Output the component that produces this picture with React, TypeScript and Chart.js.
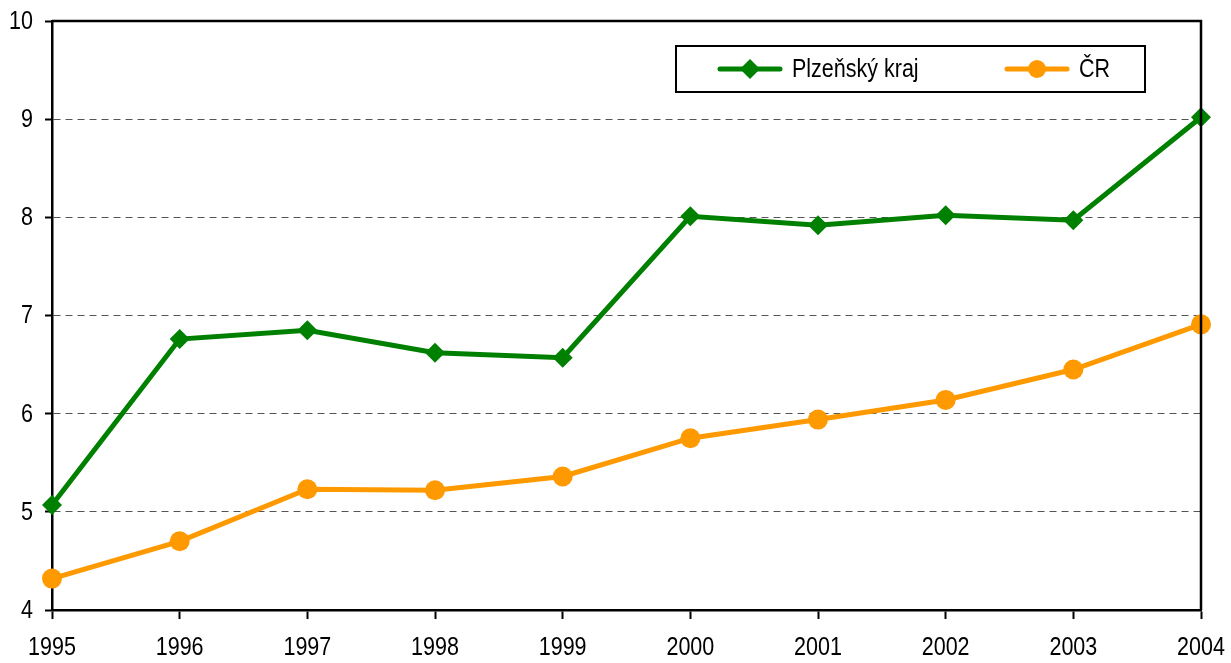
import React, { useEffect, useRef } from "react";
import { Chart, registerables } from "chart.js";

Chart.register(...registerables);

const years = ["1995", "1996", "1997", "1998", "1999", "2000", "2001", "2002", "2003", "2004"];
const plzensky = [5.07, 6.76, 6.85, 6.62, 6.57, 8.01, 7.92, 8.02, 7.97, 9.02];
const cr = [4.32, 4.70, 5.23, 5.22, 5.36, 5.75, 5.94, 6.14, 6.45, 6.91];
const seriesNames = ["Plzeňský kraj", "ČR"];
const yTicks = [4, 5, 6, 7, 8, 9, 10];

const GREEN = "#008000";
const ORANGE = "#FF9900";
const FONT = "'Liberation Sans', Arial, sans-serif";
const SX = 0.86; // horizontal condensing to mimic a narrow face

function narrowText(ctx: any, text: string, x: number, y: number, align: "left" | "right" | "center") {
  ctx.save();
  ctx.translate(x, y);
  ctx.scale(SX, 1);
  ctx.textAlign = align;
  ctx.fillText(text, 0, 0);
  ctx.restore();
}

const framePlugin = {
  id: "frame",
  afterDatasetsDraw(chart: any) {
    const { ctx, chartArea } = chart;
    ctx.save();
    ctx.strokeStyle = "#000";
    ctx.lineWidth = 2.5;
    ctx.beginPath();
    ctx.moveTo(chartArea.left, chartArea.top);
    ctx.lineTo(chartArea.right, chartArea.top);
    ctx.lineTo(chartArea.right, chartArea.bottom);
    ctx.stroke();
    ctx.restore();
  },
  afterDraw(chart: any) {
    const { ctx, chartArea } = chart;
    const xs = chart.scales.x;
    const ys = chart.scales.y;
    ctx.save();
    ctx.fillStyle = "#000";
    ctx.font = "25px " + FONT;
    ctx.textBaseline = "middle";
    years.forEach((lab, i) => {
      narrowText(ctx, lab, xs.getPixelForValue(i), chartArea.bottom + 38, "center");
    });
    yTicks.forEach((v) => {
      narrowText(ctx, String(v), chartArea.left - 19, ys.getPixelForValue(v) + 1, "right");
    });

    // legend box
    const bx = 676, by = 46, bw = 469, bh = 46;
    ctx.fillStyle = "#fff";
    ctx.fillRect(bx, by, bw, bh);
    ctx.strokeStyle = "#000";
    ctx.lineWidth = 2;
    ctx.strokeRect(bx, by, bw, bh);
    const cy = by + bh / 2;
    const items = [
      { x: 720, color: GREEN, style: "rectRot", text: seriesNames[0] },
      { x: 1007, color: ORANGE, style: "circle", text: seriesNames[1] },
    ];
    items.forEach((it) => {
      ctx.strokeStyle = it.color;
      ctx.lineWidth = 5;
      ctx.lineCap = "round";
      ctx.beginPath();
      ctx.moveTo(it.x, cy);
      ctx.lineTo(it.x + 60, cy);
      ctx.stroke();
      ctx.fillStyle = it.color;
      ctx.beginPath();
      const mx = it.x + 30;
      if (it.style === "circle") {
        ctx.arc(mx, cy, 9, 0, Math.PI * 2);
      } else {
        ctx.moveTo(mx, cy - 10);
        ctx.lineTo(mx + 10, cy);
        ctx.lineTo(mx, cy + 10);
        ctx.lineTo(mx - 10, cy);
        ctx.closePath();
      }
      ctx.fill();
      ctx.fillStyle = "#000";
      ctx.font = "25px " + FONT;
      ctx.textBaseline = "middle";
      narrowText(ctx, it.text, it.x + 72, cy + 1, "left");
    });
    ctx.restore();
  },
};

export default function App() {
  const ref = useRef<HTMLCanvasElement>(null);
  useEffect(() => {
    if (!ref.current) return;
    const chart = new Chart(ref.current, {
      type: "line",
      data: {
        labels: years,
        datasets: [
          {
            label: seriesNames[0],
            data: plzensky,
            borderColor: GREEN,
            backgroundColor: GREEN,
            borderWidth: 5,
            pointStyle: "rectRot",
            pointRadius: 10,
            pointBorderWidth: 0,
            tension: 0,
          },
          {
            label: seriesNames[1],
            data: cr,
            borderColor: ORANGE,
            backgroundColor: ORANGE,
            borderWidth: 5,
            pointStyle: "circle",
            pointRadius: 10,
            pointBorderWidth: 0,
            tension: 0,
          },
        ],
      },
      plugins: [framePlugin],
      options: {
        animation: false,
        responsive: false,
        maintainAspectRatio: false,
        layout: { padding: { top: 21, right: 30, left: 0, bottom: 0 } },
        plugins: { legend: { display: false }, tooltip: { enabled: false } },
        scales: {
          x: {
            type: "category",
            offset: false,
            grid: {
              display: true,
              drawOnChartArea: false,
              drawTicks: true,
              tickLength: 9,
              tickColor: "#000",
              tickWidth: 2,
            },
            border: { display: true, color: "#000", width: 2.5 },
            ticks: {
              color: "rgba(0,0,0,0)",
              font: { family: FONT, size: 6 },
              padding: 2,
              maxRotation: 0,
              autoSkip: false,
            },
            afterFit(scale: any) {
              scale.height = 53;
            },
          },
          y: {
            min: 4,
            max: 10,
            grid: {
              display: true,
              color: (c: any) =>
                c.tick && (c.tick.value === 4 || c.tick.value === 10) ? "rgba(0,0,0,0)" : "#555",
              lineWidth: 1,
              drawTicks: true,
              tickLength: 7,
              tickColor: "#000",
              tickWidth: 2,
              tickBorderDash: [],
            },
            border: { display: true, color: "#000", width: 2.5, dash: [7, 5] },
            ticks: {
              stepSize: 1,
              color: "rgba(0,0,0,0)",
              font: { family: FONT, size: 6 },
              padding: 2,
            },
            afterFit(scale: any) {
              scale.width = 52;
            },
          },
        },
      },
    });
    return () => chart.destroy();
  }, []);
  return (
    <div style={{ position: "fixed", left: 0, top: 0, width: 1231, height: 663, background: "#fff" }}>
      <canvas ref={ref} width={1231} height={663} style={{ width: 1231, height: 663 }} />
    </div>
  );
}
